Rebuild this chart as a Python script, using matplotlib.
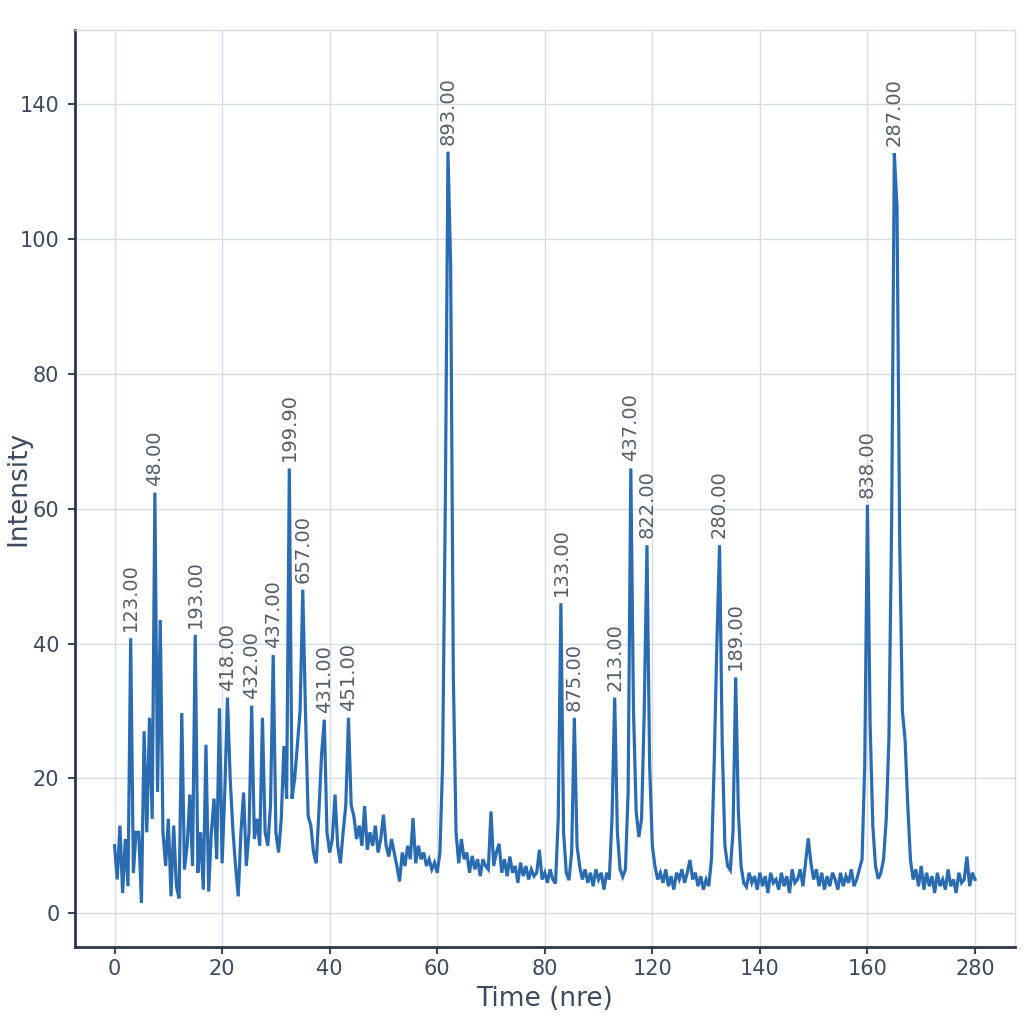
import numpy as np
import matplotlib
matplotlib.use("Agg")
import matplotlib.pyplot as plt

# signal sampled every 0.5 time units (axis units, 0 .. 160)
times = np.arange(0, 160.5, 0.5)
intensity = [
    # 0 - 9.5
    10, 5, 13, 3, 11, 4, 40.8, 6, 12, 12, 1.5, 27, 12, 29, 14, 62.4, 18, 43.5, 12, 7,
    # 10 - 19.5
    14, 2.5, 13, 4, 2.2, 29.7, 6.5, 10, 17.6, 7, 41.3, 6, 12, 3.5, 25, 3.2, 12, 17, 8, 30.4,
    # 20 - 29.5
    7.4, 18, 32, 20, 12.4, 7, 2.5, 12, 17.9, 7, 12, 30.8, 11, 14, 10, 29, 12, 10, 16, 38.3,
    # 30 - 39.5
    12, 9, 14, 24.8, 17, 66, 17, 20, 25, 30, 48, 30, 14.4, 13, 9, 7.4, 15, 23.6, 28.7, 12,
    # 40 - 49.5
    9, 11, 17.6, 10, 7.4, 12, 16, 29, 16, 14.4, 11, 13, 10, 15.9, 9.4, 12, 10, 13, 9, 11,
    # 50 - 59.5
    14.6, 10, 8.4, 11, 9, 7, 4.7, 9, 7, 10, 8, 14.1, 7.4, 10, 8, 9, 7, 8, 6.5, 7.5,
    # 60 - 69.5
    6, 9, 22, 60, 113, 96, 35, 12, 7.4, 11, 8, 9, 6, 8.5, 6.5, 8, 5.5, 8, 7, 6.5,
    # 70 - 79.5
    15.1, 7, 9, 10.3, 6, 8, 5.5, 8.4, 6, 7, 4.5, 7.5, 5.5, 7, 5, 6.5, 5.5, 6, 9.4, 5,
    # 80 - 89.5
    6, 4.5, 6.5, 5, 4.4, 14, 46, 12, 6, 4.9, 9, 29, 10, 6.9, 5, 6.5, 4.5, 6, 4, 6.5,
    # 90 - 99.5
    5, 6, 3.5, 6, 5, 14, 32, 12, 6.5, 5.4, 6.5, 18, 66, 30, 15, 11.3, 14, 30, 54.6, 22,
    # 100 - 109.5
    10, 6.9, 5, 6, 4.5, 6.5, 4, 5.5, 3.5, 6, 5, 6.5, 4.5, 6, 7.9, 5, 6, 4, 5.5, 3.5,
    # 110 - 119.5
    5, 4, 8, 22, 40, 54.6, 25, 10, 7, 6.4, 12, 35, 15, 7, 4.5, 3.9, 6, 4.5, 5.5, 3.5,
    # 120 - 129.5
    6, 4, 5.5, 3, 6, 4.5, 5, 3.5, 6, 4, 5.5, 3, 6.5, 4.5, 5, 6.5, 4, 7.5, 11.1, 7.4,
    # 130 - 139.5
    5, 6.5, 4, 6, 3.5, 5.5, 4, 6, 5, 3.5, 6, 4, 5.5, 4.5, 6.5, 4, 5, 6.5, 8, 22,
    # 140 - 149.5
    60.6, 28, 13, 7, 5.1, 6, 8, 14, 26, 58, 112.8, 104.7, 55, 30, 25.7, 16, 7.9, 5, 6.5, 4,
    # 150 - 160
    7, 3.5, 6, 4, 5.5, 3, 6, 4, 5, 3.5, 6.5, 4, 5, 3, 6, 4.5, 5, 8.4, 4, 6, 5,
]

peak_times = [3, 7.5, 15, 21, 25.5, 29.5, 32.5, 35, 39, 43.5,
              62, 83, 85.5, 93, 96, 99, 112.5, 115.5, 140, 145]
peak_labels = ["123.00", "48.00", "193.00", "418.00", "432.00", "437.00", "199.90",
               "657.00", "431.00", "451.00", "893.00", "133.00", "875.00", "213.00",
               "437.00", "822.00", "280.00", "189.00", "838.00", "287.00"]

xtick_pos = [0, 20, 40, 60, 80, 100, 120, 140, 160]
xtick_labels = ["0", "20", "40", "60", "80", "120", "140", "160", "280"]
ytick_pos = [0, 20, 40, 60, 80, 100, 120]
ytick_labels = ["0", "20", "40", "60", "80", "100", "140"]

text_col = "#3d4a5c"
grid_col = "#d6dce6"

fig = plt.figure(figsize=(10.24, 10.24), dpi=100)
ax = fig.add_axes([0.073, 0.075, 0.918, 0.896])

ax.plot(times, intensity, color="#2b6cb0", lw=2.3, solid_joinstyle="miter")

# peak annotations
vals = np.array(intensity)
for t, lab in zip(peak_times, peak_labels):
    yv = vals[int(round(t * 2))]
    ax.annotate(lab, (t, yv), xytext=(0, 5), textcoords="offset points",
                rotation=90, ha="center", va="bottom", fontsize=14, color="#555d68")

ax.set_xlim(-7.4, 167.4)
ax.set_ylim(-5.05, 131.1)
ax.set_xticks(xtick_pos)
ax.set_xticklabels(xtick_labels)
ax.set_yticks(ytick_pos)
ax.set_yticklabels(ytick_labels)
ax.tick_params(labelsize=15, colors=text_col, length=5, width=1.5)
ax.tick_params(axis="y", pad=6)

ax.grid(True, color=grid_col, lw=1.0)
ax.set_axisbelow(True)
for s in ["top", "right"]:
    ax.spines[s].set_color(grid_col)
    ax.spines[s].set_linewidth(1.0)
for s in ["left", "bottom"]:
    ax.spines[s].set_color("#2b3848")
    ax.spines[s].set_linewidth(2.0)

ax.set_xlabel("Time (nre)", fontsize=19, color=text_col, labelpad=5)
ax.set_ylabel("Intensity", fontsize=19, color=text_col)
ax.yaxis.set_label_coords(-0.046, 0.5)

fig.savefig("out.png", dpi=100)
